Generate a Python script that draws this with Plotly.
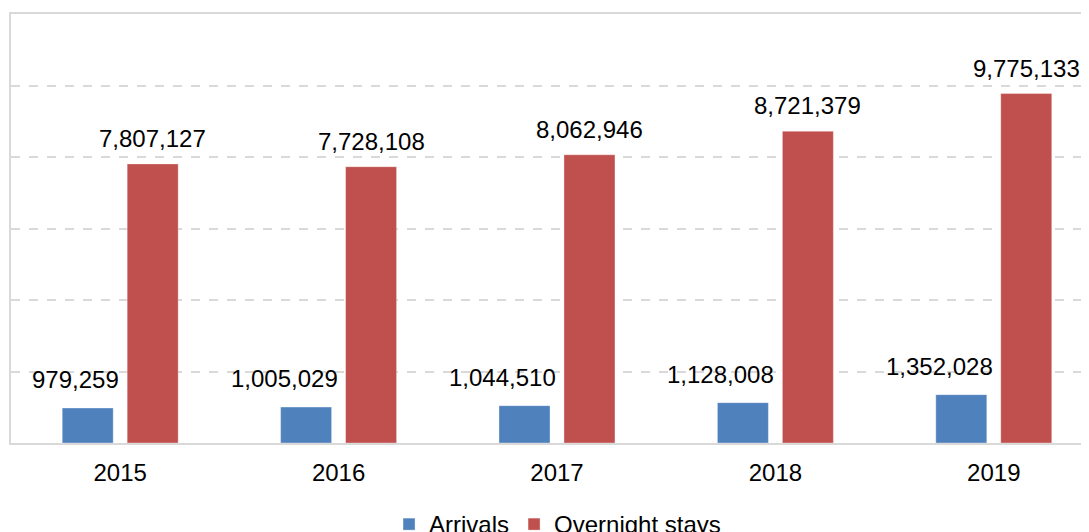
import plotly.graph_objects as go

years = ["2015", "2016", "2017", "2018", "2019"]
arrivals = [979259, 1005029, 1044510, 1128008, 1352028]
overnight = [7807127, 7728108, 8062946, 8721379, 9775133]

FONT = "Liberation Sans, Arial, sans-serif"
BLUE = "#4F81BD"
RED = "#C0504D"
FS = 24

fig = go.Figure()
fig.add_trace(go.Bar(name="Arrivals", x=years, y=arrivals, marker=dict(color=BLUE, line=dict(color="rgba(255,255,255,0.35)", width=1))))
fig.add_trace(go.Bar(name="Overnight stays", x=years, y=overnight, marker=dict(color=RED, line=dict(color="rgba(255,255,255,0.35)", width=1))))

ann = []
for i, (a, o) in enumerate(zip(arrivals, overnight)):
    ann.append(dict(x=i, y=a, xref="x", yref="y", text=f"{a:,}", showarrow=False,
                    xanchor="right", yanchor="bottom", xshift=1, yshift=13,
                    font=dict(family=FONT, size=FS, color="#000")))
    ann.append(dict(x=i, y=o, xref="x", yref="y", text=f"{o:,}", showarrow=False,
                    xanchor="center", yanchor="bottom", xshift=32.5, yshift=10,
                    font=dict(family=FONT, size=FS, color="#000")))

fig.update_layout(
    width=1089, height=532,
    margin=dict(l=3, r=8, t=6, b=97, autoexpand=False),
    paper_bgcolor="white", plot_bgcolor="white",
    barmode="group", bargap=0.405, bargroupgap=0.215,
    font=dict(family=FONT, size=FS, color="#000"),
    annotations=ann,
    showlegend=True,
    legend=dict(orientation="h", x=0.507, xanchor="center", y=-0.19, yanchor="middle",
                font=dict(family=FONT, size=FS, color="#000"), itemwidth=30,
                bgcolor="rgba(0,0,0,0)"),
    xaxis=dict(type="category", range=[-0.5, 4.436], showline=True, mirror=True,
               linecolor="#d9d9d9", linewidth=2, ticks="", showgrid=False,
               ticklabelstandoff=7, tickfont=dict(family=FONT, size=FS, color="#000")),
    yaxis=dict(range=[0, 12e6], dtick=2e6, showticklabels=False, showline=True,
               linecolor="#d9d9d9", linewidth=2, showgrid=True, gridcolor="#d9d9d9",
               griddash="dash", gridwidth=1.5, zeroline=False, ticks=""),
)

fig.write_html("out.html")
